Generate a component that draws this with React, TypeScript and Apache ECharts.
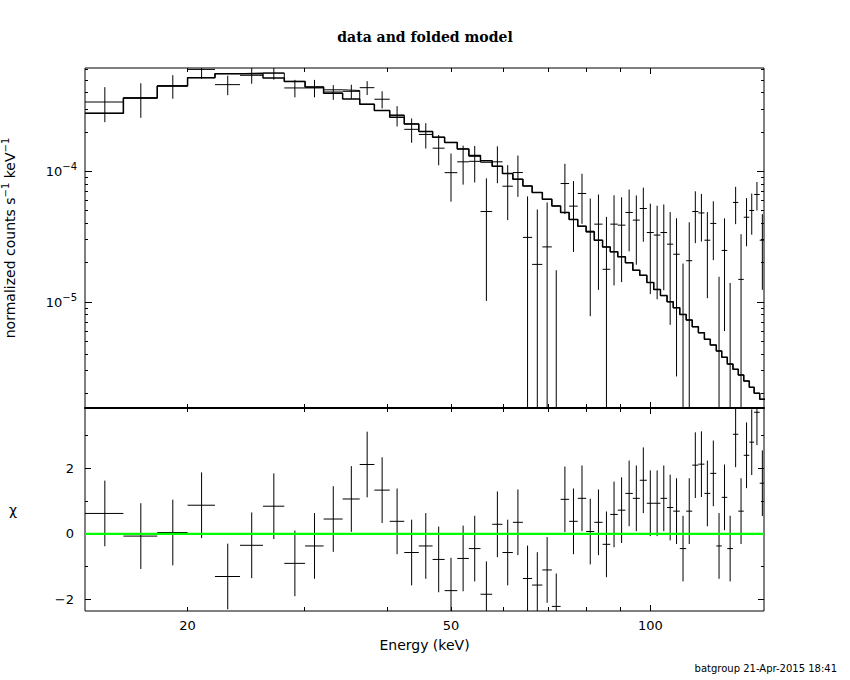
import React, { useEffect, useRef } from 'react';
import * as echarts from 'echarts';

// Energy bin edges (keV)
const energyEdges = [
  14.0, 16.0, 18.0, 20.0, 22.0, 24.0, 26.0, 28.0, 30.1, 32.1,
  34.3, 36.4, 38.3, 40.4, 42.5, 44.7, 46.9, 48.9, 51.1, 53.2,
  55.4, 57.7, 59.8, 62.0, 64.2, 66.3, 68.7, 71.0, 73.2, 75.4,
  77.7, 80.0, 82.3, 84.7, 87.0, 89.3, 91.7, 94.1, 96.4, 98.8,
  101.2, 103.6, 106.0, 108.3, 110.8, 113.3, 115.7, 118.2, 120.7, 123.2,
  125.8, 128.2, 130.7, 133.3, 135.8, 138.4, 141.1, 143.5, 146.3, 149.0,
];

// normalized counts s^-1 keV^-1
const rate = [
  3.38e-4, 3.63e-4, 4.5e-4, 6.0e-4, 4.59e-4, 5.41e-4, 5.62e-4, 4.33e-4, 4.33e-4, 4.03e-4,
  4.08e-4, 4.35e-4, 3.55e-4, 2.67e-4, 2.09e-4, 1.91e-4, 1.5e-4, 9.75e-5, 1.18e-4, 1.19e-4,
  4.92e-5, 1.18e-4, 7.68e-5, 9.77e-5, 3.12e-5, 1.94e-5, 2.64e-5, -1.29e-5, 8.05e-5, 5.41e-5,
  6.76e-5, 3.48e-5, 3.94e-5, 1.78e-5, 3.94e-5, 3.87e-5, 4.84e-5, 4.23e-5, 5.19e-5, 3.4e-5,
  3.25e-5, 3.4e-5, 2.77e-5, 2.32e-5, -1.5e-6, 2.07e-5, 4.92e-5, 4.8e-5, 2.97e-5, 3.99e-5,
  -2.4e-6, 2.48e-5, -5.2e-6, 5.77e-5, 1.49e-5, 4.45e-5, 5.01e-5, 6.64e-5, 2.97e-5,
];
const rateErr = [
  1.01e-4, 1.07e-4, 9.2e-5, 9.2e-5, 7.8e-5, 7.5e-5, 6.1e-5, 6.6e-5, 6.6e-5, 5.2e-5,
  5.0e-5, 5.3e-5, 5.3e-5, 4.7e-5, 4.4e-5, 4.2e-5, 3.9e-5, 3.9e-5, 3.9e-5, 3.7e-5,
  3.9e-5, 3.7e-5, 3.45e-5, 3.4e-5, 3.3e-5, 3.16e-5, 3.13e-5, 3.04e-5, 3.35e-5, 3.0e-5,
  2.8e-5, 2.7e-5, 2.7e-5, 2.7e-5, 2.6e-5, 2.45e-5, 2.4e-5, 2.3e-5, 2.3e-5, 2.25e-5,
  2.2e-5, 2.17e-5, 2.1e-5, 2.05e-5, 2.12e-5, 2.0e-5, 2.1e-5, 1.9e-5, 1.9e-5, 1.9e-5,
  1.8e-5, 1.88e-5, 1.92e-5, 1.83e-5, 1.81e-5, 1.78e-5, 1.74e-5, 1.63e-5, 1.73e-5,
];
// folded model (thick histogram)
const modelThick = [
  2.77e-4, 3.63e-4, 4.48e-4, 5.19e-4, 5.57e-4, 5.55e-4, 5.15e-4, 4.86e-4, 4.4e-4, 3.95e-4,
  3.56e-4, 3.25e-4, 2.91e-4, 2.59e-4, 2.3e-4, 2.01e-4, 1.82e-4, 1.66e-4, 1.48e-4, 1.32e-4,
  1.2e-4, 1.09e-4, 9.6e-5, 8.69e-5, 7.72e-5, 6.88e-5, 6.11e-5, 5.43e-5, 4.84e-5, 4.28e-5,
  3.8e-5, 3.44e-5, 2.97e-5, 2.64e-5, 2.42e-5, 2.22e-5, 2.0e-5, 1.75e-5, 1.6e-5, 1.41e-5,
  1.25e-5, 1.12e-5, 1.005e-5, 9.05e-6, 8.05e-6, 7.29e-6, 6.48e-6, 5.83e-6, 5.19e-6, 4.7e-6,
  4.23e-6, 3.78e-6, 3.36e-6, 3.06e-6, 2.77e-6, 2.49e-6, 2.23e-6, 2.01e-6, 1.81e-6,
];
// second model histogram (thin)
const modelThin = [
  2.77e-4, 3.63e-4, 4.48e-4, 5.19e-4, 5.57e-4, 5.63e-4, 5.63e-4, 4.86e-4, 4.4e-4, 4.19e-4,
  4.14e-4, 3.25e-4, 2.91e-4, 2.69e-4, 2.3e-4, 2.01e-4, 1.82e-4, 1.66e-4, 1.48e-4, 1.3e-4,
  1.17e-4, 1.09e-4, 9.6e-5, 8.69e-5, 7.72e-5, 6.88e-5, 6.11e-5, 5.43e-5, 4.84e-5, 4.28e-5,
  3.8e-5, 3.44e-5, 2.97e-5, 2.64e-5, 2.42e-5, 2.22e-5, 2.0e-5, 1.75e-5, 1.6e-5, 1.41e-5,
  1.25e-5, 1.12e-5, 1.005e-5, 9.05e-6, 8.05e-6, 7.29e-6, 6.48e-6, 5.83e-6, 5.19e-6, 4.7e-6,
  4.23e-6, 3.78e-6, 3.36e-6, 3.06e-6, 2.77e-6, 2.49e-6, 2.23e-6, 2.01e-6, 1.81e-6,
];
// residuals (chi)
const chi = [
  0.62, -0.07, 0.04, 0.87, -1.3, -0.35, 0.84, -0.9, -0.37, 0.45,
  1.06, 2.11, 1.33, 0.38, -0.57, -0.37, -0.78, -1.73, -0.75, -0.45,
  -1.84, 0.29, -0.57, 0.35, -1.36, -1.56, -1.1, -2.21, 1.05, 0.38,
  1.08, 0.07, 0.35, -0.32, 0.59, 0.72, 1.23, 1.08, 1.63, 0.93,
  0.93, 1.08, 0.8, 0.69, -0.45, 0.69, 2.09, 2.12, 1.23, 1.84,
  -0.37, 1.11, -0.45, 3.03, 0.69, 2.39, 2.79, 3.7, 1.54,
];

const xTickLabels = [20, 50, 100];
const xTicksMinor = [20, 30, 40, 50, 60, 70, 80, 90];
const xTicksMajor = [100];
const yTicksMajor = [1e-5, 1e-4];
const yTicksMinor = [
  2e-6, 3e-6, 4e-6, 5e-6, 6e-6, 7e-6, 8e-6, 9e-6,
  2e-5, 3e-5, 4e-5, 5e-5, 6e-5, 7e-5, 8e-5, 9e-5,
  2e-4, 3e-4, 4e-4, 5e-4, 6e-4,
];
const chiTicksMajor = [-2, 0, 2];
const chiTicksMinor = [-1, 1, 3];

const X_MIN = 14;
const X_MAX = 148.5;
const Y_MIN = 1.55e-6;
const Y_MAX = 6.15e-4;
const CHI_MIN = -2.35;
const CHI_MAX = 3.83;

const FONT = 'DejaVu Sans';

function tickAxis(type: string, gridIndex: number, position: string, min: number, max: number, values: number[], length: number) {
  return {
    type, gridIndex, position, min, max,
    axisLine: { show: false, onZero: false },
    axisTick: { show: true, inside: true, length, customValues: values, lineStyle: { color: '#000', width: 1 } },
    axisLabel: { show: false },
    splitLine: { show: false },
  };
}

const clamp = (v: number, lo: number, hi: number) => Math.max(lo, Math.min(hi, v));

export default function App() {
  const ref = useRef<HTMLDivElement>(null);
  useEffect(() => {
    document.body.style.margin = '0';
    if (!ref.current) return;
    const chart = echarts.init(ref.current, undefined, { renderer: 'svg' });

    const nBins = rate.length;
    const crossData = rate.map((v, i) => [energyEdges[i], energyEdges[i + 1], v, rateErr[i]]);
    const chiData = chi.map((c, i) => [energyEdges[i], energyEdges[i + 1], c]);
    const stepThick: number[][] = modelThick.map((m, i) => [energyEdges[i], m]);
    stepThick.push([energyEdges[nBins], modelThick[nBins - 1]]);
    const stepThin: number[][] = modelThin.map((m, i) => [energyEdges[i], m]);
    stepThin.push([energyEdges[nBins], modelThin[nBins - 1]]);

    const lineStyle = { stroke: '#000', lineWidth: 1 };

    const option: any = {
      animation: false,
      backgroundColor: '#fff',
      title: [
        {
          text: 'data and folded model', left: 'center', top: 30, padding: 0,
          textStyle: { fontFamily: 'DejaVu Serif', fontSize: 14, fontWeight: 'bold', color: '#000' },
        },
        {
          text: 'batgroup 21-Apr-2015 18:41', right: 13, top: 663, padding: 0,
          textStyle: { fontFamily: FONT, fontSize: 10, fontWeight: 'normal', color: '#000' },
        },
      ],
      grid: [
        { left: 85, top: 68, width: 679, height: 340, show: true, borderColor: '#000', borderWidth: 1, backgroundColor: 'transparent', containLabel: false, outerBoundsMode: 'none' },
        { left: 85, top: 408, width: 679, height: 203, show: true, borderColor: '#000', borderWidth: 1, backgroundColor: 'transparent', containLabel: false, outerBoundsMode: 'none' },
      ],
      xAxis: [
        {
          type: 'log', gridIndex: 0, position: 'bottom', min: X_MIN, max: X_MAX,
          axisLine: { show: true, onZero: false, lineStyle: { color: '#000', width: 2 } },
          axisTick: { show: true, inside: true, length: 4, customValues: xTicksMinor, lineStyle: { color: '#000', width: 1 } },
          axisLabel: { show: false },
          splitLine: { show: false },
        },
        tickAxis('log', 0, 'bottom', X_MIN, X_MAX, xTicksMajor, 6),
        tickAxis('log', 0, 'top', X_MIN, X_MAX, xTicksMinor, 4),
        tickAxis('log', 0, 'top', X_MIN, X_MAX, xTicksMajor, 6),
        {
          type: 'log', gridIndex: 1, position: 'bottom', min: X_MIN, max: X_MAX,
          name: 'Energy (keV)', nameLocation: 'middle', nameGap: 27,
          nameTextStyle: { fontFamily: FONT, fontSize: 14, color: '#000' },
          axisLine: { show: false, onZero: false },
          axisTick: { show: true, inside: true, length: 4, customValues: xTicksMinor, lineStyle: { color: '#000', width: 1 } },
          axisLabel: { show: true, customValues: xTickLabels, margin: 8, fontFamily: FONT, fontSize: 13, color: '#000', formatter: (v: number) => String(Math.round(v)) },
          splitLine: { show: false },
        },
        tickAxis('log', 1, 'bottom', X_MIN, X_MAX, xTicksMajor, 6),
        tickAxis('log', 1, 'top', X_MIN, X_MAX, xTicksMinor, 4),
        tickAxis('log', 1, 'top', X_MIN, X_MAX, xTicksMajor, 6),
      ],
      yAxis: [
        {
          type: 'log', gridIndex: 0, position: 'left', min: Y_MIN, max: Y_MAX,
          name: '{n|normalized counts s}{s|\u22121}{n| keV}{s|\u22121}', nameLocation: 'middle', nameRotate: 90, nameGap: 65,
          nameTextStyle: {
            fontFamily: FONT, fontSize: 14, color: '#000',
            rich: {
              n: { fontFamily: FONT, fontSize: 14, lineHeight: 20, color: '#000' },
              s: { fontFamily: FONT, fontSize: 10, lineHeight: 12, verticalAlign: 'top', color: '#000' },
            },
          },
          axisLine: { show: false, onZero: false },
          axisTick: { show: true, inside: true, length: 3, customValues: yTicksMinor, lineStyle: { color: '#000', width: 1 } },
          axisLabel: {
            show: true, customValues: yTicksMajor, margin: 8, color: '#000',
            formatter: (v: number) => {
              const p = Math.round(Math.log10(v));
              return '{b|10}{s|' + (p < 0 ? '\u2212' : '') + Math.abs(p) + '}';
            },
            rich: {
              b: { fontFamily: FONT, fontSize: 13, lineHeight: 20, color: '#000' },
              s: { fontFamily: FONT, fontSize: 10, lineHeight: 12, verticalAlign: 'top', color: '#000' },
            },
          },
          splitLine: { show: false },
        },
        tickAxis('log', 0, 'left', Y_MIN, Y_MAX, yTicksMajor, 7),
        tickAxis('log', 0, 'right', Y_MIN, Y_MAX, yTicksMinor, 3),
        tickAxis('log', 0, 'right', Y_MIN, Y_MAX, yTicksMajor, 7),
        {
          type: 'value', gridIndex: 1, position: 'left', min: CHI_MIN, max: CHI_MAX,
          name: '\u03c7', nameLocation: 'middle', nameRotate: 0, nameGap: 68,
          nameTextStyle: { fontFamily: FONT, fontSize: 14, color: '#000' },
          axisLine: { show: false, onZero: false },
          axisTick: { show: true, inside: true, length: 3, customValues: chiTicksMinor, lineStyle: { color: '#000', width: 1 } },
          axisLabel: {
            show: true, customValues: chiTicksMajor, margin: 11, fontFamily: FONT, fontSize: 13, color: '#000',
            formatter: (v: number) => (v < 0 ? '\u2212' + Math.abs(v) : String(v)),
          },
          splitLine: { show: false },
        },
        tickAxis('value', 1, 'left', CHI_MIN, CHI_MAX, chiTicksMajor, 6),
        tickAxis('value', 1, 'right', CHI_MIN, CHI_MAX, chiTicksMinor, 3),
        tickAxis('value', 1, 'right', CHI_MIN, CHI_MAX, chiTicksMajor, 6),
      ],
      series: [
        {
          type: 'line', xAxisIndex: 0, yAxisIndex: 0, data: stepThin, step: 'end',
          symbol: 'none', silent: true, lineStyle: { color: '#000', width: 1 }, z: 2,
        },
        {
          type: 'line', xAxisIndex: 0, yAxisIndex: 0, data: stepThick, step: 'end',
          symbol: 'none', silent: true, lineStyle: { color: '#000', width: 1.5 }, z: 2,
        },
        {
          type: 'custom', xAxisIndex: 0, yAxisIndex: 0, data: crossData, silent: true, z: 3,
          encode: { x: [0, 1], y: 2 },
          renderItem: (params: any, api: any) => {
            const lo = api.value(0);
            const hi = Math.min(api.value(1), X_MAX);
            const v = api.value(2);
            const e = api.value(3);
            const mid = (api.value(0) + api.value(1)) / 2;
            const top = clamp(v + e, Y_MIN, Y_MAX);
            const bot = clamp(v - e, Y_MIN, Y_MAX);
            const pT = api.coord([mid, top]);
            const pB = api.coord([mid, bot]);
            const children: any[] = [
              { type: 'line', shape: { x1: pT[0], y1: pT[1], x2: pB[0], y2: pB[1] }, style: lineStyle },
            ];
            if (v > Y_MIN && v <= Y_MAX) {
              const a = api.coord([lo, v]);
              const b = api.coord([hi, v]);
              children.push({ type: 'line', shape: { x1: a[0], y1: a[1], x2: b[0], y2: b[1] }, style: lineStyle });
            }
            return { type: 'group', children };
          },
        },
        {
          type: 'custom', xAxisIndex: 4, yAxisIndex: 4, data: chiData, silent: true, z: 3,
          encode: { x: [0, 1], y: 2 },
          renderItem: (params: any, api: any) => {
            const lo = api.value(0);
            const hi = Math.min(api.value(1), X_MAX);
            const c = api.value(2);
            const mid = (api.value(0) + api.value(1)) / 2;
            const pT = api.coord([mid, clamp(c + 1, CHI_MIN, CHI_MAX)]);
            const pB = api.coord([mid, clamp(c - 1, CHI_MIN, CHI_MAX)]);
            const children: any[] = [
              { type: 'line', shape: { x1: pT[0], y1: pT[1], x2: pB[0], y2: pB[1] }, style: lineStyle },
            ];
            if (c >= CHI_MIN && c <= CHI_MAX) {
              const a = api.coord([lo, c]);
              const b = api.coord([hi, c]);
              children.push({ type: 'line', shape: { x1: a[0], y1: a[1], x2: b[0], y2: b[1] }, style: lineStyle });
            }
            return { type: 'group', children };
          },
        },
        {
          type: 'line', xAxisIndex: 4, yAxisIndex: 4, data: [[X_MIN, 0], [X_MAX, 0]],
          symbol: 'none', silent: true, lineStyle: { color: '#00ff00', width: 2.2 }, z: 4,
        },
      ],
    };
    chart.setOption(option);
    return () => chart.dispose();
  }, []);
  return <div ref={ref} style={{ width: 850, height: 680 }} />;
}
